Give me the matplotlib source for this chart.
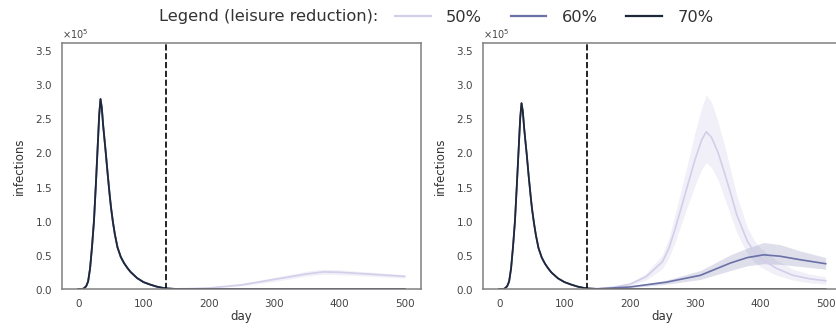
import numpy as np
import matplotlib
matplotlib.use("Agg")
import matplotlib.pyplot as plt
from matplotlib.ticker import ScalarFormatter

# values in units of 1e5 infections
wave1_day = [0, 5, 8, 12, 15, 18, 21, 24, 27, 30, 32, 34, 36, 38, 40, 42, 45, 48, 50, 53,
             56, 60, 65, 70, 75, 80, 90, 100, 110, 120, 130, 135]
wave1_inf = [0.0, 0.0, 0.005, 0.04, 0.11, 0.3, 0.62, 1.0, 1.55, 2.15, 2.55, 2.78, 2.65, 2.4,
             2.2, 2.0, 1.68, 1.38, 1.2, 0.98, 0.8, 0.61, 0.47, 0.38, 0.31, 0.25, 0.16, 0.1,
             0.065, 0.035, 0.015, 0.008]
wave1_inf_r = [0.0, 0.0, 0.005, 0.04, 0.11, 0.3, 0.62, 1.0, 1.55, 2.12, 2.5, 2.72, 2.6, 2.36,
               2.16, 1.97, 1.65, 1.36, 1.18, 0.97, 0.79, 0.6, 0.46, 0.37, 0.3, 0.24, 0.155,
               0.1, 0.065, 0.035, 0.015, 0.008]

# left panel, after day 135
left50_day = [150, 175, 200, 250, 300, 350, 375, 400, 450, 500]
left50_inf = [0.002, 0.006, 0.015, 0.06, 0.14, 0.22, 0.25, 0.245, 0.215, 0.185]
left50_lo = [0.001, 0.004, 0.01, 0.045, 0.11, 0.19, 0.215, 0.21, 0.185, 0.16]
left50_hi = [0.003, 0.008, 0.02, 0.075, 0.17, 0.26, 0.29, 0.28, 0.245, 0.21]
left_low_day = [150, 500]
left_low_inf = [0.0, 0.0]

# right panel, after day 135
r50_day = [150, 175, 200, 225, 250, 260, 270, 285, 300, 310, 317, 325, 335, 345, 355,
           364, 380, 390, 400, 425, 450, 475, 500]
r50_inf = [0.005, 0.025, 0.07, 0.18, 0.4, 0.6, 0.9, 1.4, 1.9, 2.18, 2.3, 2.22, 2.0, 1.7,
           1.38, 1.08, 0.7, 0.55, 0.45, 0.3, 0.2, 0.15, 0.12]
r50_lo = [0.003, 0.018, 0.05, 0.13, 0.3, 0.46, 0.7, 1.12, 1.52, 1.75, 1.85, 1.78, 1.6, 1.33,
          1.06, 0.82, 0.52, 0.4, 0.32, 0.2, 0.13, 0.09, 0.07]
r50_hi = [0.007, 0.032, 0.09, 0.23, 0.5, 0.75, 1.12, 1.7, 2.3, 2.65, 2.84, 2.74, 2.45, 2.1,
          1.72, 1.36, 0.9, 0.72, 0.6, 0.42, 0.29, 0.22, 0.18]
r60_day = [150, 200, 256, 308, 354, 380, 405, 430, 460, 500]
r60_inf = [0.002, 0.03, 0.1, 0.2, 0.38, 0.46, 0.5, 0.48, 0.43, 0.37]
r60_lo = [0.001, 0.02, 0.07, 0.14, 0.27, 0.34, 0.37, 0.36, 0.33, 0.29]
r60_hi = [0.003, 0.04, 0.13, 0.27, 0.5, 0.6, 0.68, 0.65, 0.56, 0.46]
r70_day = [150, 500]
r70_inf = [0.0, 0.0]

labels = ["50%", "60%", "70%"]
colors = ["#d3cee9", "#6b70a6", "#1e2838"]
policy_day = 135
scale = 1e5

plt.rcParams["font.family"] = "DejaVu Sans"
fig = plt.figure(figsize=(8.37, 3.31), dpi=100)
ax1 = fig.add_axes([62 / 837, 42 / 331, 359 / 837, 246 / 331])
ax2 = fig.add_axes([483 / 837, 42 / 331, 359 / 837, 246 / 331])


def series(day2, inf2, w1):
    d = np.array(wave1_day + day2)
    v = np.array(w1 + inf2) * scale
    return d, v


# left panel
ax1.fill_between(left50_day, np.array(left50_lo) * scale, np.array(left50_hi) * scale,
                 color=colors[0], alpha=0.3, lw=0)
d, v = series(left50_day, left50_inf, wave1_inf)
ax1.plot(d, v, color=colors[0], lw=1.2)
for c in colors[1:]:
    d, v = series(left_low_day, left_low_inf, wave1_inf)
    ax1.plot(d, v, color=c, lw=1.3)

# right panel
ax2.fill_between(r50_day, np.array(r50_lo) * scale, np.array(r50_hi) * scale,
                 color=colors[0], alpha=0.3, lw=0)
d, v = series(r50_day, r50_inf, wave1_inf_r)
ax2.plot(d, v, color=colors[0], lw=1.2, label=labels[0])
ax2.fill_between(r60_day, np.array(r60_lo) * scale, np.array(r60_hi) * scale,
                 color=colors[1], alpha=0.22, lw=0)
d, v = series(r60_day, r60_inf, wave1_inf_r)
ax2.plot(d, v, color=colors[1], lw=1.2, label=labels[1])
d, v = series(r70_day, r70_inf, wave1_inf_r)
ax2.plot(d, v, color=colors[2], lw=1.3, label=labels[2])

for ax in (ax1, ax2):
    ax.axvline(policy_day, color="black", ls="--", lw=1.2)
    ax.set_xlim(-25, 525)
    ax.set_ylim(0, 3.6e5)
    ax.set_xticks([0, 100, 200, 300, 400, 500])
    ax.set_yticks(np.arange(0, 3.51e5, 0.5e5))
    fmt = ScalarFormatter(useMathText=True)
    fmt.set_powerlimits((0, 0))
    ax.yaxis.set_major_formatter(fmt)
    ax.yaxis.get_offset_text().set_fontsize(7)
    ax.yaxis.get_offset_text().set_color("#444444")
    ax.tick_params(length=0, labelsize=7.5, colors="#444444", pad=7)
    for s in ax.spines.values():
        s.set_color("#808080")
        s.set_linewidth(1.1)
    ax.set_xlabel("day", fontsize=8.5, color="#333333", labelpad=1)
    ax.set_ylabel("infections", fontsize=8.5, color="#333333", labelpad=6)

fig.text(378 / 837, 1 - 17 / 331, "Legend (leisure reduction):", ha="right", va="center",
         fontsize=11.7, color="#333333")
h, l = ax2.get_legend_handles_labels()
leg = fig.legend(h, l, loc="center left", bbox_to_anchor=(395 / 837, 1 - 17 / 331), ncol=3,
                 frameon=False, fontsize=11.7, handlelength=2.2, handletextpad=0.95,
                 columnspacing=1.75, borderaxespad=0, borderpad=0)
for t in leg.get_texts():
    t.set_color("#333333")
for ln in leg.get_lines():
    ln.set_linewidth(1.6)

fig.savefig("out.png", dpi=100)
